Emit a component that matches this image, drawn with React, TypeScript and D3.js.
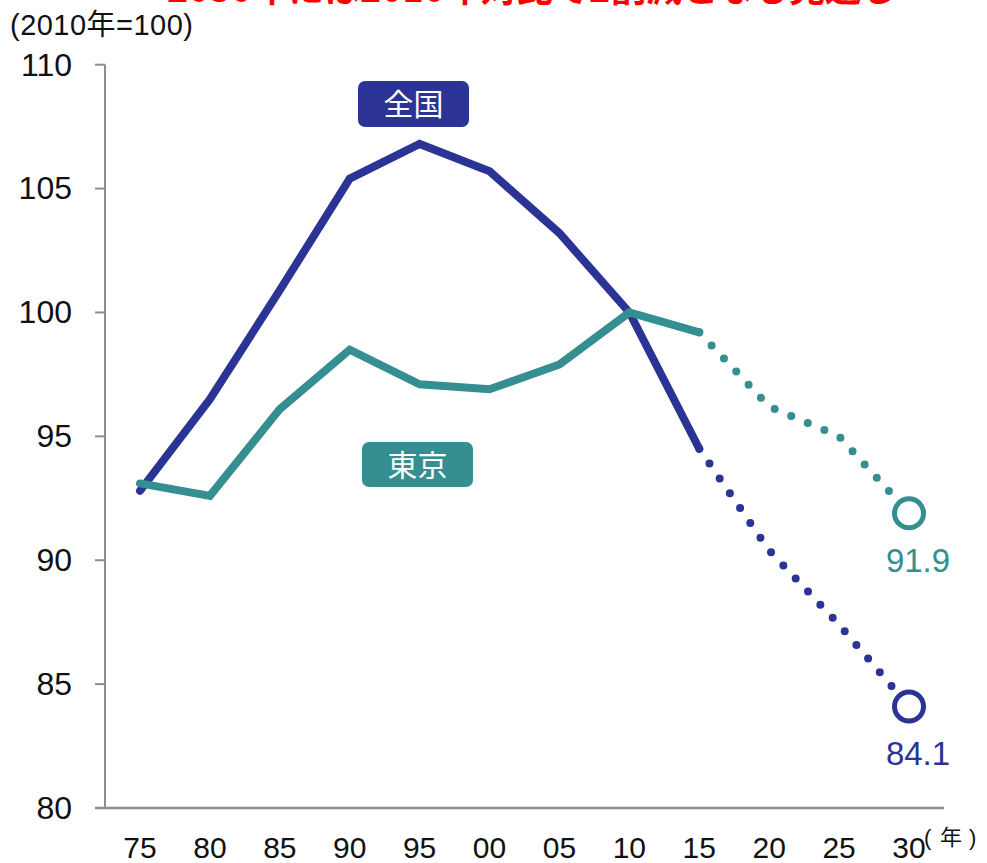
import React from "react";
import * as d3 from "d3";

// Year labels along the x axis (1975 … 2030)
const years = ["75", "80", "85", "90", "95", "00", "05", "10", "15", "20", "25", "30"];
const yTicks = [80, 85, 90, 95, 100, 105, 110];

// 全国: actual (75–15) and projection (15–30)
const nationalActual = [92.8, 96.5, 100.9, 105.4, 106.8, 105.7, 103.2, 100.0, 94.5];
const nationalProjected = [94.5, 90.4, 87.4, 84.1];

// 東京: actual (75–15) and projection (15–30)
const tokyoActual = [93.1, 92.6, 96.1, 98.5, 97.1, 96.9, 97.9, 100.0, 99.2];
const tokyoProjected = [99.2, 96.2, 95.0, 91.9];

const NAVY = "#2b3395";
const TEAL = "#358f90";
const AXIS = "#8e8e8e";
const LATIN = "'Liberation Sans', Arial, 'Noto Sans CJK JP', sans-serif";
const CJK = "'Noto Sans CJK JP', 'Noto Sans', sans-serif";

const W = 987;
const H = 863;

export default function App() {
  const x = d3.scalePoint<string>().domain(years).range([140, 909]);
  const y = d3.scaleLinear().domain([80, 110]).range([808, 64.7]);

  const line = d3
    .line<[string, number]>()
    .x((d) => x(d[0]) as number)
    .y((d) => y(d[1]));

  const actualYears = years.slice(0, 9);
  const projYears = years.slice(8);

  const series = [
    { name: "全国", color: NAVY, actual: nationalActual, proj: nationalProjected },
    { name: "東京", color: TEAL, actual: tokyoActual, proj: tokyoProjected },
  ];

  const axisLeft = 105;
  const axisRight = 944;

  return (
    <svg
      width={W}
      height={H}
      viewBox={`0 0 ${W} ${H}`}
      style={{ position: "absolute", left: 0, top: 0, background: "#fff" }}
    >
      {/* headline, running off the top edge */}
      <text
        x={167}
        y={2}
        fill="#ff0000"
        fontFamily={CJK}
        fontWeight={700}
        fontSize={36}
      >
        2030年には2010年対比で2割減となる見通し
      </text>

      {/* unit */}
      <text
        x={10}
        y={35}
        fontFamily={LATIN}
        fontSize={29}
        fill="#111"
        textLength={183}
      >
        (2010年=100)
      </text>

      {/* y axis */}
      <line x1={axisLeft} x2={axisLeft} y1={y(110)} y2={y(80)} stroke={AXIS} strokeWidth={2} />
      {yTicks.map((t) => (
        <g key={t}>
          <line x1={95} x2={axisLeft} y1={y(t)} y2={y(t)} stroke={AXIS} strokeWidth={2} />
          <text
            x={72}
            y={y(t)}
            dy="0.34em"
            textAnchor="end"
            fontFamily={LATIN}
            fontSize={32}
            fill="#111"
          >
            {t}
          </text>
        </g>
      ))}

      {/* x axis */}
      <line x1={95} x2={axisRight} y1={y(80)} y2={y(80)} stroke={AXIS} strokeWidth={2.5} />
      {years.map((yr) => (
        <text
          key={yr}
          x={x(yr)}
          y={858}
          textAnchor="middle"
          fontFamily={LATIN}
          fontSize={30}
          fill="#111"
        >
          {yr}
        </text>
      ))}
      <text y={845} fontFamily={LATIN} fontSize={22} fill="#111">
        <tspan x={924}>(</tspan>
        <tspan x={940} fontFamily={CJK}>年</tspan>
        <tspan x={969}>)</tspan>
      </text>

      {/* series */}
      {series.map((s) => {
        const actual = actualYears.map((yr, i) => [yr, s.actual[i]] as [string, number]);
        const proj = projYears.map((yr, i) => [yr, s.proj[i]] as [string, number]);
        const last = proj[proj.length - 1];
        return (
          <g key={s.name}>
            <path
              d={line(actual) ?? ""}
              fill="none"
              stroke={s.color}
              strokeWidth={8}
              strokeLinejoin="miter"
              strokeLinecap="round"
            />
            <path
              d={line(proj) ?? ""}
              fill="none"
              stroke={s.color}
              strokeWidth={8}
              strokeLinecap="round"
              strokeDasharray="0 18"
            />
            <circle
              cx={x(last[0])}
              cy={y(last[1])}
              r={14.5}
              fill="#fff"
              stroke={s.color}
              strokeWidth={5}
            />
            <text
              x={(x(last[0]) as number) + 9}
              y={y(last[1]) + 59}
              textAnchor="middle"
              fontFamily={LATIN}
              fontSize={33}
              fill={s.color}
            >
              {d3.format(".1f")(last[1])}
            </text>
          </g>
        );
      })}

      {/* series name tags */}
      <g>
        <rect x={358} y={81} width={111} height={46} rx={7} fill={NAVY} />
        <text x={413.5} y={115} textAnchor="middle" fontFamily={CJK} fontSize={30} fill="#fff">
          全国
        </text>
      </g>
      <g>
        <rect x={362} y={442} width={111} height={45} rx={7} fill={TEAL} />
        <text x={417.5} y={476} textAnchor="middle" fontFamily={CJK} fontSize={30} fill="#fff">
          東京
        </text>
      </g>
    </svg>
  );
}
